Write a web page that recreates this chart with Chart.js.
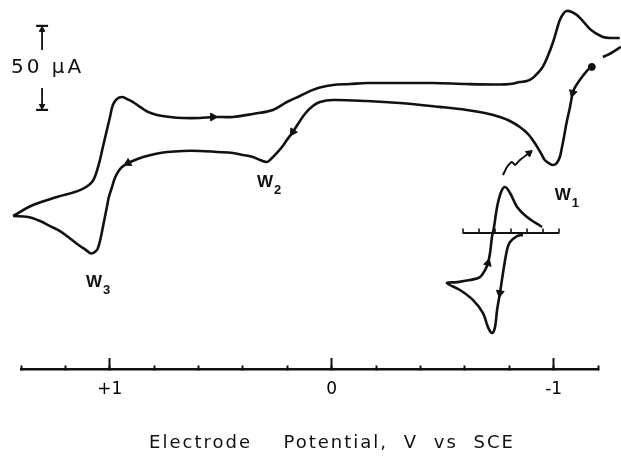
<!DOCTYPE html>
<html><head><meta charset="utf-8">
<script src="https://cdn.jsdelivr.net/npm/chart.js@4.4.1/dist/chart.umd.min.js"></script>
<style>html,body{margin:0;padding:0;background:#fff;}#wrap{width:621px;height:458px;}</style>
</head><body><div id="wrap"><canvas id="c" width="621" height="458"></canvas></div>
<script>
// ---- data (potential in V vs SCE, current in µA) ----
// scan from the start dot toward positive potentials (W1, W2, W3)
const scanOutPotential = [-1.172,-1.154,-1.118,-1.095,-1.086,-1.073,-1.059,-1.050,-1.037,-1.028,-1.014,-0.996,-0.978,-0.960,-0.942,-0.915,-0.884,-0.848,-0.803,-0.758,-0.690,-0.609,-0.487,-0.307,-0.159,-0.005,0.053,0.085,0.121,0.152,0.175,0.202,0.224,0.247,0.269,0.292,0.323,0.355,0.400,0.445,0.517,0.594,0.670,0.742,0.796,0.850,0.886,0.918,0.945,0.963,0.977,0.990,1.004,1.013,1.022,1.031,1.040,1.049,1.058,1.076,1.089,1.107,1.134,1.170,1.224,1.269,1.314,1.368,1.436];
const scanOutCurrent = [179.8,178.0,172.0,167.3,164.3,155.4,147.0,140.5,131.5,126.2,122.6,121.4,122.6,124.4,128.6,134.5,139.9,144.0,147.6,150.0,152.4,154.2,156.0,158.3,159.5,160.1,158.9,156.5,151.8,145.8,141.1,136.3,132.1,128.6,125.6,123.2,124.4,126.2,127.4,128.6,129.2,129.8,129.8,129.2,128.0,126.2,124.4,122.6,120.2,117.3,113.7,108.3,102.4,96.4,90.5,84.5,78.6,73.8,70.8,69.0,69.0,70.8,73.2,76.8,82.1,85.1,88.1,90.5,91.1];
// return scan toward negative potentials
const scanBackPotential = [1.436,1.346,1.238,1.134,1.080,1.053,1.031,1.013,0.999,0.986,0.968,0.945,0.923,0.895,0.864,0.828,0.787,0.729,0.670,0.594,0.535,0.445,0.355,0.265,0.202,0.143,0.085,0.053,-0.005,-0.082,-0.159,-0.307,-0.456,-0.609,-0.758,-0.803,-0.848,-0.879,-0.906,-0.929,-0.951,-0.974,-0.996,-1.014,-1.028,-1.046,-1.059,-1.082,-1.105,-1.132,-1.163,-1.195,-1.222,-1.253,-1.298];
const scanBackCurrent = [91.1,97.6,102.4,106.5,111.3,120.2,132.1,142.3,150.0,157.1,160.7,161.9,160.7,158.9,156.0,153.0,151.2,150.0,149.4,149.4,150.0,150.0,151.8,154.2,158.9,162.5,166.1,167.6,169.0,169.6,170.2,170.2,170.2,169.6,169.3,169.6,170.8,171.4,173.2,176.2,179.8,186.3,194.0,201.8,207.7,211.9,213.1,212.5,210.7,207.1,202.4,199.4,197.6,197.0,197.0];
const restartPotential = [-1.222,-1.253,-1.303];
const restartCurrent = [185.7,187.5,191.7];
const startPotential = [-1.172];
const startCurrent = [179.8];
const arrowPotential = [-1.086,0.175,0.918,0.535];
const arrowCurrent = [164.3,141.1,122.6,150.0];
const arrowAngle = [197,214,242,90];
// inset (W1 detail)
const insetPotential = [-1.075,-1.038,-0.994,-0.975,-0.950,-0.931,-0.913,-0.900,-0.881,-0.856,-0.825,-0.763,-0.681,-0.600,-0.663,-0.744,-0.806,-0.838,-0.856,-0.869,-0.881,-0.894,-0.913,-0.938,-0.963,-0.994,-1.038,-1.100,-1.194];
const insetCurrent = [-1.2,-1.8,-5.4,-10.1,-23.8,-35.7,-45.8,-56.0,-59.5,-56.0,-47.6,-39.9,-33.9,-29.8,-29.2,-28.0,-26.2,-22.0,-17.9,-11.9,-2.4,3.6,15.5,24.4,27.4,23.8,15.5,9.5,3.6];
const insetTicks = [-0.7,-0.8,-0.9,-1.0,-1.1,-1.2,-1.3];
const insetArrowPotential = [-0.856,-0.931];
const insetArrowCurrent = [-17.9,-35.7];
const insetArrowAngle = [16,189];
const pointerPotential = [-0.950,-0.975,-1.006,-1.025,-1.056,-1.113];
const pointerCurrent = [34.5,39.3,42.3,40.5,43.5,47.6];
// axis ticks
const majorTicks = [1,0,-1];
const majorTickLabels = ['+1','0','-1'];
// scale bar
const scaleBarPotential = 1.305;
const scaleBarTop = 204.2;
const scaleBarSpan = 50;
const scaleBarLabel = '50 µA';
// peak labels
const peakNames = ['W','W','W'];
const peakSubs = ['1','2','3'];
const peakLabelPotential = [-1.005,0.337,1.107];
const peakLabelCurrent = [100.6,108.3,48.8];
const axisTitle = 'Electrode  Potential, V vs SCE';

// ---- chart ----
const INK = '#111';
const pts = (xs, ys) => xs.map((v, i) => ({x: v, y: ys[i]}));
const line = (data, extra) => Object.assign({data, showLine: true, borderColor: INK, borderWidth: 2.6,
  pointRadius: 0, tension: 0.35, clip: false, fill: false}, extra || {});
const marks = (data, extra) => Object.assign({data, showLine: false, pointStyle: 'triangle', pointRadius: 4.5,
  pointBackgroundColor: INK, pointBorderColor: INK, pointBorderWidth: 1, clip: false}, extra || {});

const gapTop = scaleBarTop - 14.3, gapBottom = scaleBarTop - scaleBarSpan + 13.1, capHalf = 0.027;

const datasets = [
  line(pts(scanOutPotential, scanOutCurrent)),
  line(pts(scanBackPotential, scanBackCurrent)),
  line(pts(restartPotential, restartCurrent), {tension: 0.2}),
  line(pts(insetPotential, insetCurrent), {xAxisID: 'xi', yAxisID: 'yi'}),
  line(pts([insetTicks[0], insetTicks[insetTicks.length - 1]], [0, 0]), {xAxisID: 'xi', yAxisID: 'yi', borderWidth: 2, tension: 0}),
  {data: insetTicks.map(v => ({x: v, y: 1.2})), xAxisID: 'xi', yAxisID: 'yi', showLine: false, pointStyle: 'line',
   pointRotation: 90, pointRadius: 2.5, pointBorderColor: INK, pointBorderWidth: 1.6, clip: false},
  line(pts(pointerPotential, pointerCurrent), {xAxisID: 'xi', yAxisID: 'yi', borderWidth: 2, tension: 0.2}),
  marks(pts([pointerPotential[pointerPotential.length - 1]], [pointerCurrent[pointerCurrent.length - 1]]),
    {xAxisID: 'xi', yAxisID: 'yi', pointRotation: 52, pointRadius: 4}),
  marks(pts(arrowPotential, arrowCurrent), {pointRotation: arrowAngle}),
  marks(pts(insetArrowPotential, insetArrowCurrent), {xAxisID: 'xi', yAxisID: 'yi', pointRotation: insetArrowAngle}),
  marks(pts(startPotential, startCurrent), {pointStyle: 'circle', pointRadius: 3.5}),
  line(pts([scaleBarPotential, scaleBarPotential], [scaleBarTop, gapTop]), {borderWidth: 1.8, tension: 0}),
  line(pts([scaleBarPotential, scaleBarPotential], [gapBottom, scaleBarTop - scaleBarSpan]), {borderWidth: 1.8, tension: 0}),
  line(pts([scaleBarPotential + capHalf, scaleBarPotential - capHalf], [scaleBarTop, scaleBarTop]), {borderWidth: 2.2, tension: 0}),
  line(pts([scaleBarPotential + capHalf, scaleBarPotential - capHalf], [scaleBarTop - scaleBarSpan, scaleBarTop - scaleBarSpan]), {borderWidth: 2.2, tension: 0}),
  marks(pts([scaleBarPotential, scaleBarPotential], [scaleBarTop - 2.3, scaleBarTop - scaleBarSpan + 2.3]),
    {pointRotation: [0, 180], pointRadius: 3.2})
];

const annot = {
  id: 'annot',
  afterDatasetsDraw(chart) {
    const {ctx} = chart, X = chart.scales.x, Y = chart.scales.y;
    ctx.save();
    ctx.fillStyle = INK;
    // scale bar label
    ctx.font = '20px "DejaVu Sans"';
    ctx.letterSpacing = '3px';
    ctx.textAlign = 'center';
    ctx.textBaseline = 'middle';
    ctx.fillText(scaleBarLabel, X.getPixelForValue(scaleBarPotential) + 5.5, Y.getPixelForValue(scaleBarTop - scaleBarSpan / 2));
    // peak labels
    ctx.letterSpacing = '0px';
    ctx.textAlign = 'left';
    ctx.textBaseline = 'alphabetic';
    peakNames.forEach((n, i) => {
      const px = X.getPixelForValue(peakLabelPotential[i]), py = Y.getPixelForValue(peakLabelCurrent[i]);
      ctx.font = 'bold 17px "Liberation Sans"';
      ctx.fillText(n, px, py);
      const w = ctx.measureText(n).width;
      ctx.font = 'bold 13px "Liberation Sans"';
      ctx.fillText(peakSubs[i], px + w + 1, py + 7);
    });
    // axis title
    ctx.font = '18px "DejaVu Sans"';
    ctx.letterSpacing = '2px';
    ctx.wordSpacing = '8px';
    ctx.textAlign = 'center';
    ctx.textBaseline = 'middle';
    ctx.fillText(axisTitle, 332, 443);
    ctx.restore();
  }
};

Chart.defaults.color = '#000';
Chart.defaults.font.family = '"DejaVu Sans"';

new Chart(document.getElementById('c'), {
  type: 'scatter',
  data: {datasets},
  options: {
    responsive: false,
    animation: false,
    devicePixelRatio: 1,
    layout: {padding: {left: 21, right: 23, top: 0, bottom: 0}, autoPadding: false},
    plugins: {legend: {display: false}, tooltip: {enabled: false}, title: {display: false}},
    scales: {
      x: {type: 'linear', reverse: true, min: -1.2, max: 1.4, position: {y: 0},
          ticks: {display: false, stepSize: 0.2, includeBounds: false},
          grid: {display: true, drawOnChartArea: false, drawTicks: true, tickLength: -5, tickWidth: 2, tickColor: INK},
          border: {display: true, width: 2.5, color: INK}},
      x2: {type: 'linear', axis: 'x', reverse: true, min: -1.2, max: 1.4, position: {y: 0},
           ticks: {stepSize: 1, includeBounds: false, padding: 21, color: '#000', font: {size: 17},
                   callback: v => { const k = majorTicks.indexOf(Math.round(v * 1000) / 1000); return k >= 0 ? majorTickLabels[k] : ''; }},
           grid: {display: true, drawOnChartArea: false, drawTicks: true, tickLength: -11, tickWidth: 2, tickColor: INK},
           border: {display: false}},
      xi: {type: 'linear', axis: 'x', reverse: true, display: false, min: -1.54375, max: 2.0625},
      y: {type: 'linear', display: false, min: -52.9, max: 219.6},
      yi: {type: 'linear', axis: 'y', display: false, min: -133.85, max: 138.65}
    }
  },
  plugins: [annot]
});
</script>
</body></html>
